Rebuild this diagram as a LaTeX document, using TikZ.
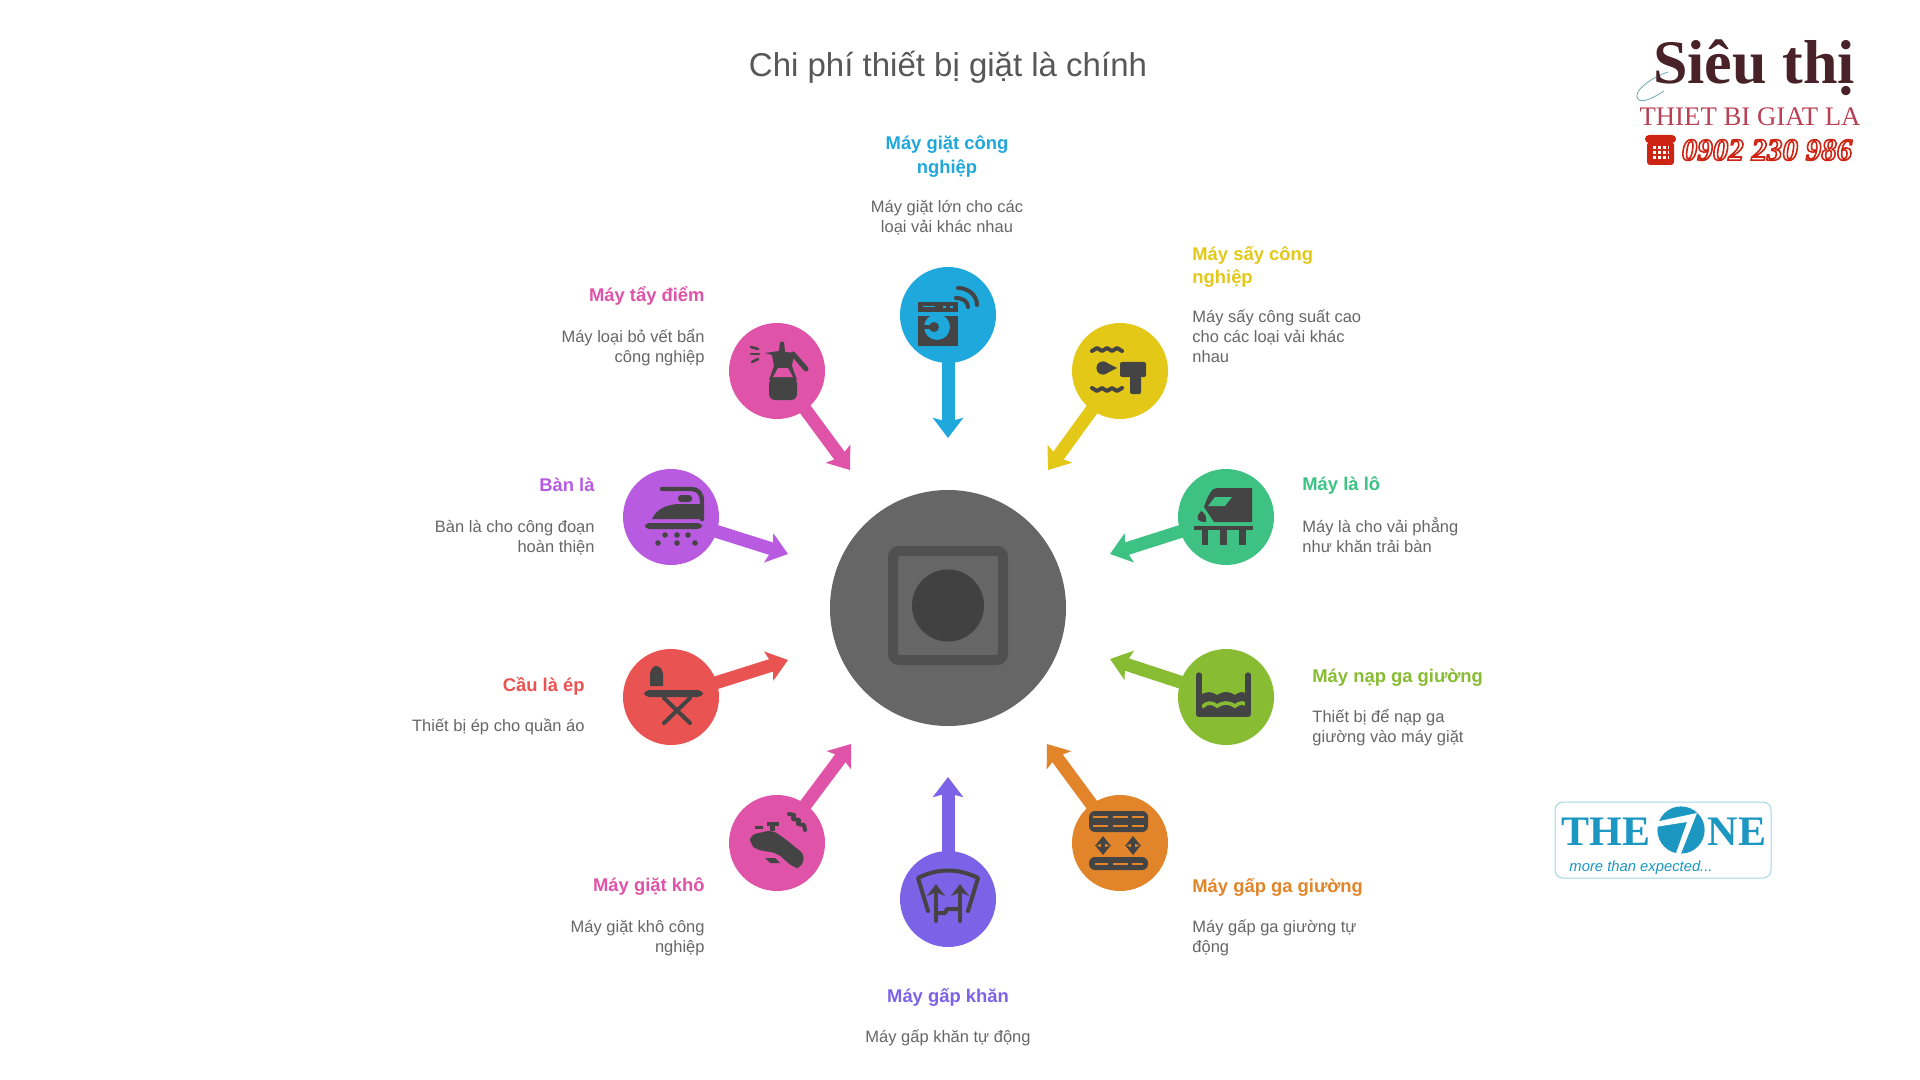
\documentclass[tikz,border=0pt]{standalone}
\usepackage{fontspec}
\usepackage{xcolor}
\usetikzlibrary{positioning,arrows.meta}
\setmainfont{Liberation Sans}
\newfontfamily\serifcap{Liberation Serif}
\definecolor{maygiat}{RGB}{31,168,220}
\definecolor{maysay}{RGB}{227,200,23}
\definecolor{maylo}{RGB}{61,194,132}
\definecolor{maynap}{RGB}{136,188,51}
\definecolor{maygapga}{RGB}{226,133,42}
\definecolor{maygapkhan}{RGB}{123,99,232}
\definecolor{maykho}{RGB}{223,83,169}
\definecolor{cauep}{RGB}{233,83,81}
\definecolor{banla}{RGB}{185,91,224}
\definecolor{maytay}{RGB}{223,83,169}
\definecolor{hub}{RGB}{102,102,102}
\definecolor{icon}{RGB}{68,68,68}
\definecolor{hubsquare}{RGB}{80,80,80}
\definecolor{bodytext}{RGB}{102,102,102}
\definecolor{logomaroon}{RGB}{72,34,40}
\definecolor{logored}{RGB}{186,64,84}
\definecolor{logoteal}{RGB}{110,170,180}
\definecolor{phonered}{RGB}{206,36,20}
\definecolor{oneblue}{RGB}{27,151,194}
\tikzset{
  x=0.5pt,y=-0.5pt,
  spoke/.style={circle,minimum size=48pt,inner sep=0pt,fill=#1},
  spokearrow/.style={draw=#1,line width=6.5pt,shorten <=-4pt,-{Stealth[length=10pt,width=15pt,inset=2pt]}},
  headlabel/.style={inner sep=0pt,font=\fontsize{9.2}{11.6}\selectfont\bfseries,text=#1},
  bodylabel/.style={inner sep=0pt,font=\fontsize{8.25}{10}\selectfont,text=bodytext},
  iconline/.style={draw=icon,line width=2pt,line cap=round,line join=round},
  movearrow/.style={iconline,line width=2.4pt,{Stealth[length=5pt,width=8pt]}-{Stealth[length=5pt,width=8pt]}},
  liftarrow/.style={iconline,-{Stealth[length=6pt,width=9pt]}},
}
\begin{document}
\begin{tikzpicture}
\useasboundingbox (0,0) rectangle (1920,1080);
\fill[white] (0,0) rectangle (1920,1080); % page
\node[inner sep=0pt,font=\fontsize{16.5}{18}\selectfont,text=icon!90] (title) at (948,67) {Chi phí thiết bị giặt là chính};
% Hub
\node[circle,minimum size=118pt,inner sep=0pt,fill=hub] (hub) at (948,608) {};
\draw[draw=hubsquare,line width=5pt,rounded corners=3pt] (893,551) rectangle (1003,660); % hub square
\fill[icon!95!black] (948,605.5) circle (18pt); % hub dot
% Tips
\coordinate (tipgiat) at (948,438);
\coordinate (tipsay) at (1048,470);
\coordinate (tiplo) at (1110,554);
\coordinate (tipnap) at (1110,659);
\coordinate (tipgapga) at (1047,744);
\coordinate (tipgapkhan) at (948,777);
\coordinate (tipkho) at (851,744);
\coordinate (tipep) at (788,660);
\coordinate (tipbanla) at (788,554);
\coordinate (tiptay) at (850,470);
% Spokes
\node[spoke=maygiat] (giat) at (948,315) {};
\node[spoke=maysay] (say) at (1120,371) {};
\node[spoke=maylo] (lo) at (1226,517) {};
\node[spoke=maynap] (nap) at (1226,697) {};
\node[spoke=maygapga] (gapga) at (1120,843) {};
\node[spoke=maygapkhan] (gapkhan) at (948,899) {};
\node[spoke=maykho] (kho) at (777,843) {};
\node[spoke=cauep] (ep) at (671,697) {};
\node[spoke=banla] (banla) at (671,517) {};
\node[spoke=maytay] (tay) at (777,371) {};
\draw[spokearrow=maygiat] (giat) -- (tipgiat);
\draw[spokearrow=maysay] (say) -- (tipsay);
\draw[spokearrow=maylo] (lo) -- (tiplo);
\draw[spokearrow=maynap] (nap) -- (tipnap);
\draw[spokearrow=maygapga] (gapga) -- (tipgapga);
\draw[spokearrow=maygapkhan] (gapkhan) -- (tipgapkhan);
\draw[spokearrow=maykho] (kho) -- (tipkho);
\draw[spokearrow=cauep] (ep) -- (tipep);
\draw[spokearrow=banla] (banla) -- (tipbanla);
\draw[spokearrow=maytay] (tay) -- (tiptay);
% Labels
\node[headlabel=maygiat,align=center] (giathead) at (947,156.5) {Máy giặt công\\nghiệp};
\node[bodylabel,align=center] (giatbody) at (947,218) {Máy giặt lớn cho các\\loại vải khác nhau};
\node[headlabel=maysay,align=left,right = 0mm of {(1192,266.5)}] (sayhead) {Máy sấy công\\nghiệp};
\node[bodylabel,align=left,right = 0mm of {(1192,336)}] (saybody) {Máy sấy công suất cao\\cho các loại vải khác\\nhau};
\node[headlabel=maylo,align=left,right = 0mm of {(1302,486)}] (lohead) {Máy là lô};
\node[bodylabel,align=left,right = 0mm of {(1302,535.5)}] (lobody) {Máy là cho vải phẳng\\như khăn trải bàn};
\node[headlabel=maynap,align=left,right = 0mm of {(1312,678)}] (naphead) {Máy nạp ga giường};
\node[bodylabel,align=left,right = 0mm of {(1312,728)}] (napbody) {Thiết bị để nạp ga\\giường vào máy giặt};
\node[headlabel=maygapga,align=left,right = 0mm of {(1192,887)}] (gapgahead) {Máy gấp ga giường};
\node[bodylabel,align=left,right = 0mm of {(1192,938)}] (gapgabody) {Máy gấp ga giường tự\\động};
\node[headlabel=maygapkhan] (gapkhanhead) at (948,997) {Máy gấp khăn};
\node[bodylabel] (gapkhanbody) at (948,1038) {Máy gấp khăn tự động};
\node[headlabel=maykho,align=right,left = 0mm of {(705,887)}] (khohead) {Máy giặt khô};
\node[bodylabel,align=right,left = 0mm of {(705,938)}] (khobody) {Máy giặt khô công\\nghiệp};
\node[headlabel=cauep,align=right,left = 0mm of {(585,686)}] (ephead) {Cầu là ép};
\node[bodylabel,align=right,left = 0mm of {(585,727)}] (epbody) {Thiết bị ép cho quần áo};
\node[headlabel=banla,align=right,left = 0mm of {(595,485)}] (banlahead) {Bàn là};
\node[bodylabel,align=right,left = 0mm of {(595,538)}] (banlabody) {Bàn là cho công đoạn\\hoàn thiện};
\node[headlabel=maytay,align=right,left = 0mm of {(705,296)}] (tayhead) {Máy tẩy điểm};
\node[bodylabel,align=right,left = 0mm of {(705,348)}] (taybody) {Máy loại bỏ vết bẩn\\công nghiệp};
% Icon washer
\begin{scope}[shift={(giat)}]
\fill[icon] (-30,-13) rectangle (10,-3); % top bar
\fill[icon] (-30,1) rectangle (10,31); % drum case
\fill[maygiat] (-25,-9) rectangle (-13,-7.5); % dash
\fill[maygiat] (-5,-9) rectangle (-2,-7); % led
\fill[maygiat] (2,-9) rectangle (5,-7); % led
\fill[maygiat] (-11,12) circle (6.5pt); % door
\fill[icon] (-14,12) circle (2.5pt); % door dot
\fill[icon] (-24,10) rectangle (-14,14); % door notch
\draw[iconline] (8,-17) .. controls (14,-17) and (20,-14) .. (20,-8); % wifi inner
\draw[iconline] (10,-27) .. controls (20,-27) and (29,-20) .. (29,-10); % wifi outer
\end{scope}
% Icon dryer
\begin{scope}[shift={(say)}]
\draw[iconline] (-28,-20) -- (-23,-23) -- (-18,-20) -- (-13,-23) -- (-8,-20) -- (-3,-23) -- (2,-20); % top wave
\draw[iconline] (-28,17) -- (-23,20) -- (-18,17) -- (-13,20) -- (-8,17) -- (-3,20) -- (2,17); % bottom wave
\fill[icon] (-17,-3) circle (3.3pt); % blower
\fill[icon] (-15,-9) -- (-3,-3) -- (-15,3) -- cycle; % nozzle
\fill[icon,rounded corners=1pt] (0,-9) rectangle (26,6); % head
\fill[icon,rounded corners=1pt] (10,5) rectangle (21,23); % grip
\end{scope}
% Icon ironer
\begin{scope}[shift={(lo)}]
\fill[icon] (26,-29) -- (-9,-29) .. controls (-14,-29) and (-18,-22) .. (-22,-10) -- (-12,5) -- (26,5) -- cycle; % body
\fill[maylo] (-18,-11) -- (-11,-20) -- (6,-20) -- (-1,-11) -- cycle; % window
\fill[icon] (-25,-6) .. controls (-32,2) and (-28,5) .. (-20,5) .. controls (-19,0) and (-21,-4) .. (-25,-6); % nose
\fill[icon] (-32,9) rectangle (27,13); % bed
\fill[icon] (-24,13) rectangle (-18,28); % leg
\fill[icon] (-6,13) rectangle (1,28); % leg
\fill[icon] (13,13) rectangle (20,28); % leg
\end{scope}
% Icon sheet loader
\begin{scope}[shift={(nap)}]
\fill[icon] (-27,-1) .. controls (-20,-6) and (-15,-6) .. (-9,-2) .. controls (-3,-6) and (3,-6) .. (9,-2) .. controls (14,-6) and (18,-6) .. (22,-2) -- (22,17) -- (-27,17) -- cycle; % water
\draw[maynap,line width=1.8pt] (-24,10) .. controls (-19,5) and (-14,5) .. (-9,9) .. controls (-3,5) and (3,5) .. (9,9) .. controls (14,5) and (18,5) .. (22,9); % ripple
\draw[iconline,line width=2.6pt] (-27,-22) -- (-27,17.5) -- (22,17.5) -- (22,-22); % tub
\end{scope}
% Icon folder
\begin{scope}[shift={(gapga)}]
\fill[icon,rounded corners=3pt] (-31,-32) rectangle (28,-11); % upper tray
\fill[maygapga] (-27,-27) rectangle (-12,-25);
\fill[maygapga] (-7,-27) rectangle (8,-25);
\fill[maygapga] (12,-27) rectangle (24,-25);
\fill[maygapga] (-27,-18) rectangle (-12,-16);
\fill[maygapga] (-7,-18) rectangle (8,-16);
\fill[maygapga] (12,-18) rectangle (24,-16);
\fill[icon,rounded corners=3pt] (-31,14) rectangle (28,27); % lower tray
\fill[maygapga] (-25,20) rectangle (-12,22);
\fill[maygapga] (-7,20) rectangle (8,22);
\fill[maygapga] (12,20) rectangle (23,22);
\draw[movearrow] (-17,-7) -- (-17,12); % move
\draw[movearrow] (13,-7) -- (13,12); % move
\end{scope}
% Icon towel folder
\begin{scope}[shift={(gapkhan)}]
\draw[iconline] (-20,12) -- (-30,-21) .. controls (-10,-31) and (10,-31) .. (30,-21) -- (20,12); % frame
\draw[liftarrow] (-12,22) -- (-12,-15); % lift
\draw[liftarrow] (12,22) -- (12,-15); % lift
\draw[iconline] (-12,14) -- (-3,14) -- (-1,10) -- (12,10); % link
\end{scope}
% Icon dry cleaner
\begin{scope}[shift={(kho)}]
\fill[icon,rounded corners=3pt] (-27,-8) -- (-5,-13) -- (7,-5) -- (28,12) -- (24,25) -- (17,25) -- (0,10) -- (-20,7) -- (-27,1) -- cycle; % tap
\fill[icon] (-7,-12) rectangle (-2,-19); % stem
\fill[icon] (-10,-21) rectangle (2,-17); % valve
\fill[icon] (-22,-17) rectangle (-14,-14); % mark
\fill[icon] (-12,15) -- (-2,15) -- (3,20) -- (-7,20) -- cycle; % drop
\draw[iconline] (12,-29) -- (17,-28) -- (16,-24) -- (22,-23) -- (21,-19) -- (27,-18) -- (28,-13); % squiggle
\end{scope}
% Icon press table
\begin{scope}[shift={(ep)}]
\fill[icon] (-21,-11) -- (-21,-23) .. controls (-20,-29) and (-17,-31) .. (-15,-31) .. controls (-12,-31) and (-9,-29) .. (-8,-23) -- (-8,-11) -- cycle; % press
\fill[icon,rounded corners=2.5pt] (-27,-7) rectangle (32,0); % board
\draw[iconline] (-7,1) -- (19,26); % leg
\draw[iconline] (19,1) -- (-7,26); % leg
\end{scope}
% Icon iron
\begin{scope}[shift={(banla)}]
\draw[iconline,line width=2.2pt] (-9,-28) -- (20,-28) .. controls (27,-28) and (31,-24) .. (31,-15) -- (31,2); % handle
\fill[icon] (-19,2) .. controls (-14,-10) and (0,-13) .. (9,-13) -- (31,-13) -- (31,2) -- cycle; % body
\fill[icon,rounded corners=1.5pt] (7,-22) rectangle (21,-15); % switch
\fill[icon,rounded corners=2pt] (-26,6) rectangle (31,12); % plate
\fill[icon] (-6,18) circle (1.4pt);
\fill[icon] (6,18) circle (1.4pt);
\fill[icon] (17,18) circle (1.4pt);
\fill[icon] (-13,26) circle (1.4pt);
\fill[icon] (6,26) circle (1.4pt);
\fill[icon] (24,26) circle (1.4pt);
\end{scope}
% Icon spray
\begin{scope}[shift={(tay)}]
\fill[icon,rounded corners=3pt] (-8,7) rectangle (20,29); % tank
\fill[icon] (3,-29) -- (7,-29) -- (8,-19) -- (17,-18) -- (15,-5) -- (20,9) -- (-8,9) -- (-3,-5) -- (-5,-16) -- (-12,-18) -- (2,-20) -- cycle; % head
\fill[maytay] (1,-3) -- (11,-3) -- (16,6) -- (-4,6) -- cycle; % window
\draw[iconline,line width=2.5pt] (16,-17) -- (29,-2); % handle
\draw[iconline,line width=1.3pt] (-26,-24) -- (-19,-22); % jet
\draw[iconline,line width=1.3pt] (-26,-17) -- (-18,-17); % jet
\draw[iconline,line width=1.3pt] (-25,-9) -- (-19,-12); % jet
\end{scope}
% Logo Sieu thi
\draw[logoteal,line width=0.4pt] (1668,72) .. controls (1650,78) and (1632,92) .. (1638,99) .. controls (1642,104) and (1655,97) .. (1664,91); % flourish
\node[inner sep=0pt,font=\serifcap\fontsize{31}{31}\selectfont\bfseries,text=logomaroon] (sieuthi) at (1754,68) {Siêu thị};
\node[inner sep=0pt,font=\serifcap\fontsize{13.4}{13.4}\selectfont,text=logored] (thietbi) at (1750,117) {THIET BI GIAT LA};
\fill[phonered,rounded corners=1.5pt] (1647,142) rectangle (1674,165); % phone body
\fill[phonered,rounded corners=2pt] (1645,135) rectangle (1676,143); % phone handset
\draw[white,line width=1.5pt,dash pattern=on 1.5pt off 1pt] (1653,148) -- (1669,148); % keypad
\draw[white,line width=1.5pt,dash pattern=on 1.5pt off 1pt] (1653,153) -- (1669,153); % keypad
\draw[white,line width=1.5pt,dash pattern=on 1.5pt off 1pt] (1653,158) -- (1669,158); % keypad
\node[inner sep=0pt,font=\serifcap\fontsize{15.5}{15.5}\selectfont\bfseries\itshape,text=white] (hotline) at (1767,150) {\special{pdf:code 2 Tr 0.8 w 0.81 0.14 0.08 RG}0902 230 986\special{pdf:code 0 Tr}};
% Logo The One
\draw[draw=oneblue!40,line width=0.5pt,rounded corners=4pt] (1555,802) rectangle (1771,878); % frame
\node[inner sep=0pt,font=\serifcap\fontsize{21}{21}\selectfont\bfseries,text=oneblue] (the) at (1606,832) {THE};
\fill[oneblue] (1681,830) circle (11.8pt); % globe
\fill[white] (1655,822) -- (1697,813) -- (1680,856) -- (1675,856) -- (1687,822) -- (1655,827) -- cycle; % swoosh
\node[inner sep=0pt,font=\serifcap\fontsize{21}{21}\selectfont\bfseries,text=oneblue] (ne) at (1737,832) {NE};
\node[inner sep=0pt,font=\fontsize{7.4}{9}\selectfont\itshape,text=oneblue] (expected) at (1641,868) {more than expected...};
\end{tikzpicture}
\end{document}
